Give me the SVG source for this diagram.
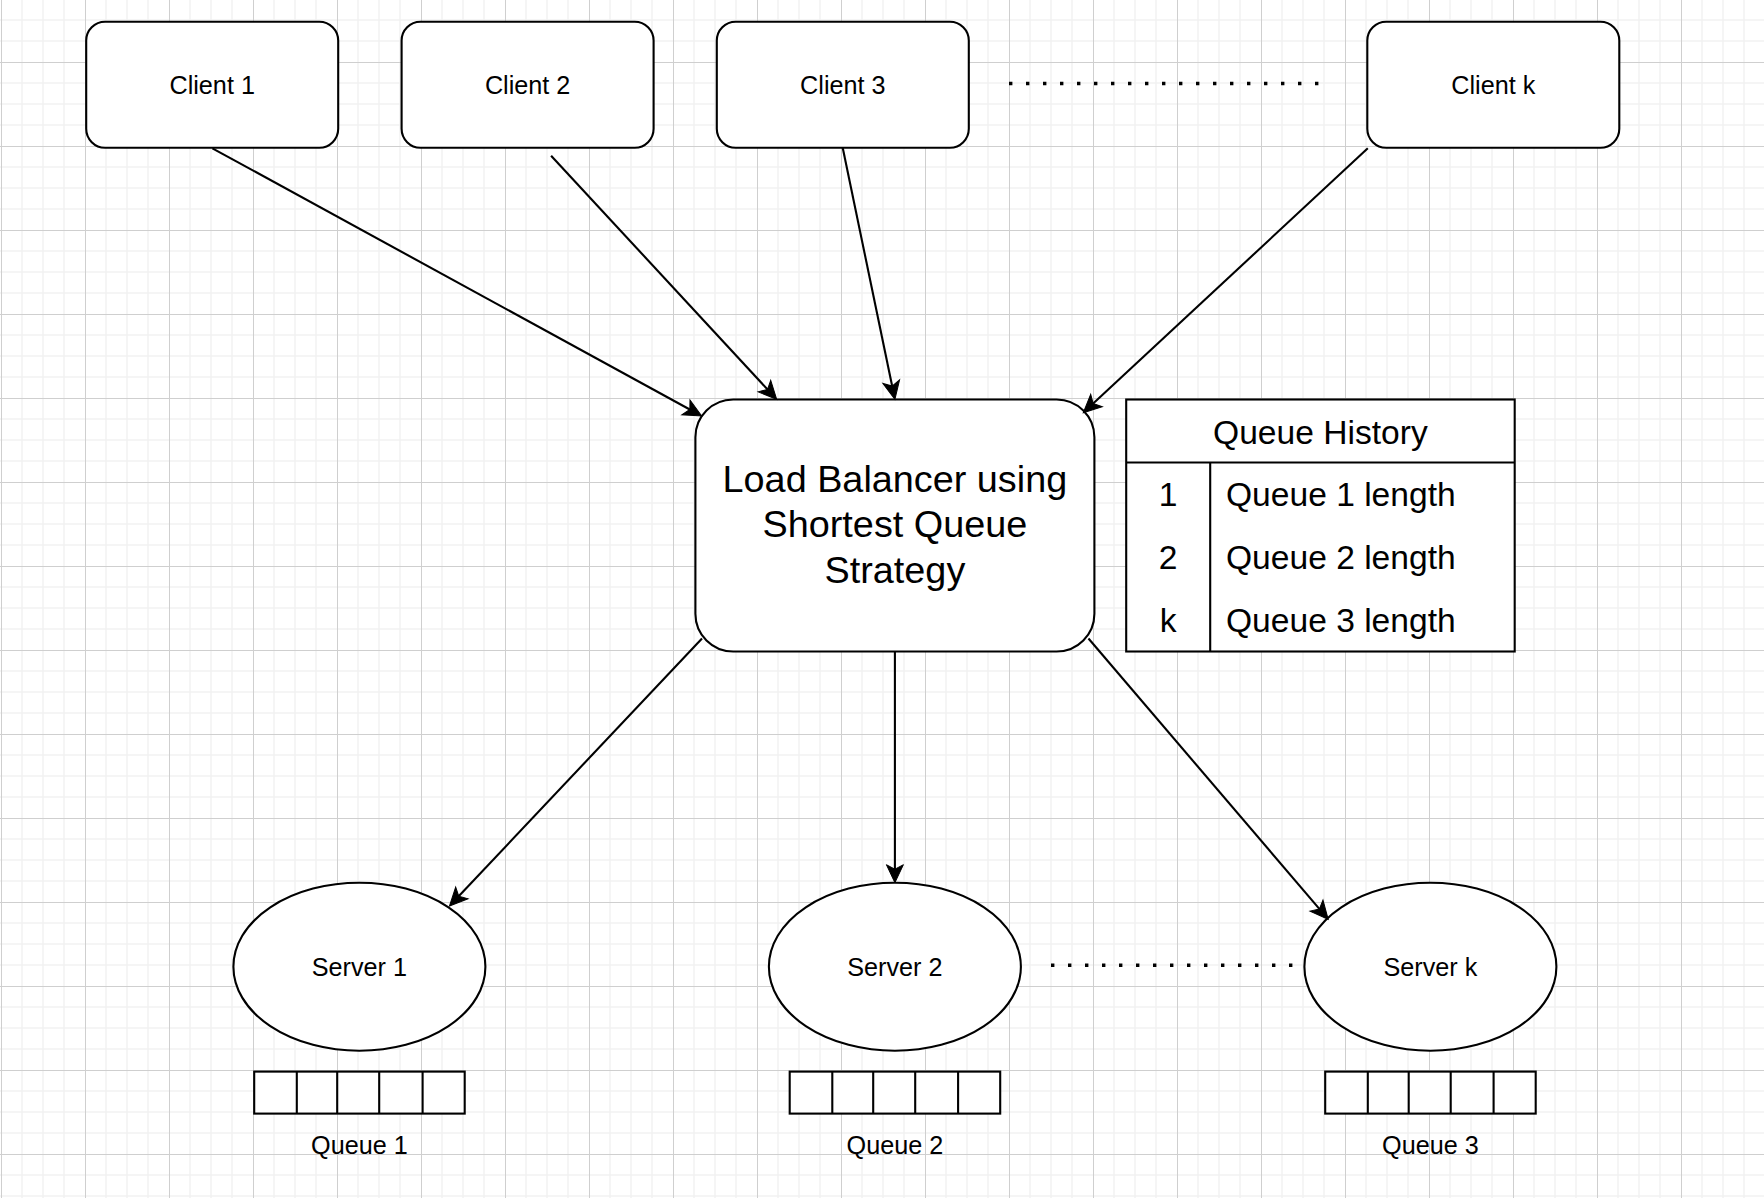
<svg xmlns="http://www.w3.org/2000/svg" width="1764" height="1198" viewBox="0 0 1764 1198">
  <defs>
    <pattern id="grid" patternUnits="userSpaceOnUse" x="1" y="62" width="84" height="84">
      <path d="M21 0V84M42 0V84M63 0V84M0 21H84M0 42H84M0 63H84" stroke="#f2f2f2" stroke-width="1.5" fill="none"/>
      <path d="M0.5 0V84M0 0.5H84" stroke="#cfcfcf" stroke-width="1" fill="none"/>
    </pattern>
    <marker id="arrow" markerUnits="userSpaceOnUse" viewBox="-20 -10 22 20" markerWidth="22" markerHeight="20" refX="-12" refY="0" orient="auto">
      <path d="M0,0 L-18,-8.5 L-13.5,0 L-18,8.5 Z" fill="#000" stroke="#000" stroke-width="1" stroke-linejoin="miter"/>
    </marker>
    <style>
      .box { fill: #fff; stroke: #000; stroke-width: 2.1; }
      .ln { fill: none; stroke: #000; stroke-width: 2.1; }
      .edge { fill: none; stroke: #000; stroke-width: 2.1; marker-end: url(#arrow); }
      .dots { fill: none; stroke: #000; stroke-width: 3.4; stroke-dasharray: 3.4 13.6; }
      text { font-family: "Liberation Sans", Arial, Helvetica, sans-serif; fill: #000; }
      .t12 { font-size: 25.2px; text-anchor: middle; }
      .t18 { font-size: 37.8px; text-anchor: middle; }
      .t16 { font-size: 33.6px; }
      .mid { text-anchor: middle; }
    </style>
  </defs>

  <rect x="0" y="0" width="1764" height="1198" fill="#fff"/>
  <rect x="0" y="0" width="1764" height="1198" fill="url(#grid)"/>

  <g id="client1">
    <rect class="box" x="86.2" y="21.7" width="252" height="126" rx="18.9" ry="18.9"/>
    <text class="t12" x="212.2" y="93.5">Client 1</text>
  </g>
  <g id="client2">
    <rect class="box" x="401.6" y="21.7" width="252" height="126" rx="18.9" ry="18.9"/>
    <text class="t12" x="527.6" y="93.5">Client 2</text>
  </g>
  <g id="client3">
    <rect class="box" x="716.8" y="21.7" width="252" height="126" rx="18.9" ry="18.9"/>
    <text class="t12" x="842.8" y="93.5">Client 3</text>
  </g>
  <g id="clientk">
    <rect class="box" x="1367.3" y="21.7" width="252" height="126" rx="18.9" ry="18.9"/>
    <text class="t12" x="1493.3" y="93.5">Client k</text>
  </g>

  <g id="load-balancer">
    <rect class="box" x="695.4" y="399.5" width="399" height="252" rx="37.8" ry="37.8"/>
    <text class="t18" x="894.9" y="491.8">Load Balancer using</text>
    <text class="t18" x="894.9" y="537.2">Shortest Queue</text>
    <text class="t18" x="894.9" y="582.6">Strategy</text>
  </g>

  <g id="queue-history">
    <rect class="box" x="1126.2" y="399.5" width="388.5" height="252"/>
    <path class="ln" d="M1126.2 462.5H1514.7M1210.2 462.5V651.5"/>
    <text class="t16 mid" x="1320.4" y="443.5">Queue History</text>
    <text class="t16 mid" x="1168.2" y="505.5">1</text>
    <text class="t16" x="1226" y="505.5">Queue 1 length</text>
    <text class="t16 mid" x="1168.2" y="568.5">2</text>
    <text class="t16" x="1226" y="568.5">Queue 2 length</text>
    <text class="t16 mid" x="1168.2" y="631.5">k</text>
    <text class="t16" x="1226" y="631.5">Queue 3 length</text>
  </g>

  <g id="server1">
    <ellipse class="box" cx="359.4" cy="966.7" rx="126" ry="84"/>
    <text class="t12" x="359.4" y="975.5">Server 1</text>
  </g>
  <g id="server2">
    <ellipse class="box" cx="894.9" cy="966.7" rx="126" ry="84"/>
    <text class="t12" x="894.9" y="975.5">Server 2</text>
  </g>
  <g id="serverk">
    <ellipse class="box" cx="1430.4" cy="966.7" rx="126" ry="84"/>
    <text class="t12" x="1430.4" y="975.5">Server k</text>
  </g>

  <g id="queue1">
    <rect class="box" x="254.2" y="1071.6" width="210.5" height="42"/>
    <path class="ln" d="M296.8 1071.6V1113.6M337.2 1071.6V1113.6M379.2 1071.6V1113.6M422.6 1071.6V1113.6"/>
    <text class="t12" x="359.4" y="1153.5">Queue 1</text>
  </g>
  <g id="queue2">
    <rect class="box" x="789.7" y="1071.6" width="210.5" height="42"/>
    <path class="ln" d="M832.3 1071.6V1113.6M873.2 1071.6V1113.6M915.2 1071.6V1113.6M958.1 1071.6V1113.6"/>
    <text class="t12" x="894.9" y="1153.5">Queue 2</text>
  </g>
  <g id="queue3">
    <rect class="box" x="1325.2" y="1071.6" width="210.5" height="42"/>
    <path class="ln" d="M1367.8 1071.6V1113.6M1408.7 1071.6V1113.6M1450.7 1071.6V1113.6M1493.6 1071.6V1113.6"/>
    <text class="t12" x="1430.4" y="1153.5">Queue 3</text>
  </g>

  <g id="ellipsis-lines">
    <path class="dots" d="M1009 83.5H1320"/>
    <path class="dots" d="M1051 965.3H1293"/>
  </g>

  <g id="connectors">
    <path class="edge" d="M212.4 148.3L691.17 410.24"/>
    <path class="edge" d="M551.1 155.7L768.55 390.5"/>
    <path class="edge" d="M842.6 147.3L892.46 387.55"/>
    <path class="edge" d="M1367.8 148.3L1092.09 404.53"/>
    <path class="edge" d="M702 638.5L457.74 897.27"/>
    <path class="edge" d="M894.9 651.7L894.9 870.7"/>
    <path class="edge" d="M1088.5 638.5L1320.41 910.17"/>
  </g>
</svg>
